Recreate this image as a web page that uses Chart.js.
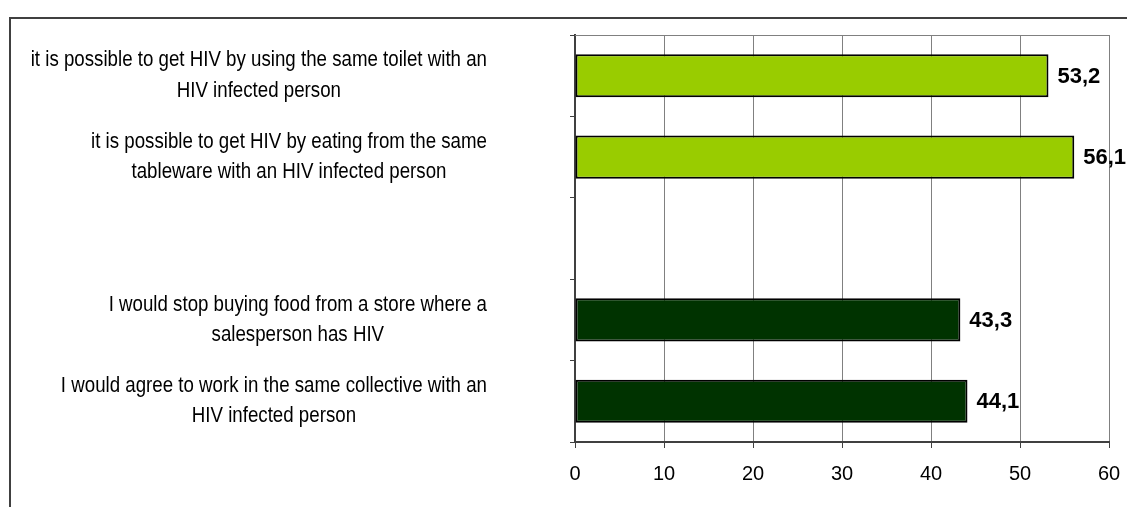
<!DOCTYPE html>
<html>
<head>
<meta charset="utf-8">
<script src="https://cdn.jsdelivr.net/npm/chart.js@4"></script>
<style>
  html, body { margin: 0; padding: 0; background: #ffffff; overflow: hidden; }
  #wrap { position: relative; width: 1127px; height: 507px; }
  #frame { position: absolute; left: 9px; top: 17px; width: 1300px; height: 700px;
           border: 2px solid #404040; box-sizing: border-box; }
  #chart { position: absolute; left: 0; top: 0; }
</style>
</head>
<body>
<div id="wrap">
  <div id="frame"></div>
  <canvas id="chart" width="1127" height="507"></canvas>
</div>
<script>
// Survey statements (top to bottom); the empty slot separates the two groups
const categories = [
  ['it is possible to get HIV by using the same toilet with an', 'HIV infected person'],
  ['it is possible to get HIV by eating from the same', 'tableware with an HIV infected person'],
  '',
  ['I would stop buying food from a store where a', 'salesperson has HIV'],
  ['I would agree to work in the same collective with an', 'HIV infected person']
];

// Share of respondents, %
const values = [53.2, 56.1, null, 43.3, 44.1];

// Group colours: misconceptions (light green), attitudes (dark green)
const barColors = ['#99CC00', '#99CC00', '#99CC00', '#003300', '#003300'];

// Value axis ticks
const xTickMin = 0;
const xTickMax = 60;
const xTickStep = 10;

const FONT = '"Liberation Sans", Arial, sans-serif';

// Category labels: each block centred on its own widest line, right edge fixed
const categoryLabels = {
  id: 'categoryLabels',
  afterDraw(chart) {
    const { ctx, chartArea } = chart;
    const yScale = chart.scales.y;
    const sx = 0.85;          // condensed face
    const lineH = 30.5;
    const capH = 15.7;
    const rightX = chartArea.left - 88;
    ctx.save();
    ctx.fillStyle = '#000000';
    ctx.font = '22px ' + FONT;
    ctx.textAlign = 'center';
    ctx.textBaseline = 'alphabetic';
    categories.forEach((lab, i) => {
      if (!lab) return;
      const lines = Array.isArray(lab) ? lab : [lab];
      const maxW = Math.max(...lines.map(l => ctx.measureText(l).width)) * sx;
      const cx = rightX - maxW / 2;
      const yc = yScale.getPixelForValue(i);
      const first = yc - (lines.length - 1) * lineH / 2 + capH / 2 - 2;
      lines.forEach((line, k) => {
        ctx.save();
        ctx.translate(cx, first + k * lineH);
        ctx.scale(sx, 1);
        ctx.fillText(line, 0, 0);
        ctx.restore();
      });
    });
    ctx.restore();
  }
};

// Value labels at the end of each bar, decimal comma
const valueLabels = {
  id: 'valueLabels',
  afterDatasetsDraw(chart) {
    const { ctx } = chart;
    const meta = chart.getDatasetMeta(0);
    ctx.save();
    ctx.fillStyle = '#000000';
    ctx.font = 'bold 22px ' + FONT;
    ctx.textAlign = 'left';
    ctx.textBaseline = 'middle';
    meta.data.forEach((bar, i) => {
      const v = values[i];
      if (v === null || v === undefined) return;
      ctx.fillText(v.toFixed(1).replace('.', ','), bar.x + 9, bar.y + 1);
    });
    ctx.restore();
  }
};

// Grey top edge of the plot area
const plotTopEdge = {
  id: 'plotTopEdge',
  beforeDatasetsDraw(chart) {
    const { ctx, chartArea } = chart;
    ctx.save();
    ctx.strokeStyle = '#808080';
    ctx.lineWidth = 1;
    ctx.beginPath();
    ctx.moveTo(chartArea.left, Math.round(chartArea.top) + 0.5);
    ctx.lineTo(chartArea.right, Math.round(chartArea.top) + 0.5);
    ctx.stroke();
    ctx.restore();
  }
};

new Chart(document.getElementById('chart'), {
  type: 'bar',
  data: {
    labels: categories,
    datasets: [{
      data: values,
      backgroundColor: barColors,
      borderColor: '#000000',
      borderWidth: 2,
      borderSkipped: false,
      barPercentage: 0.53,
      categoryPercentage: 1.0
    }]
  },
  options: {
    indexAxis: 'y',
    responsive: false,
    animation: false,
    layout: { padding: { top: 35, right: 18, left: 0, bottom: 0 } },
    plugins: {
      legend: { display: false },
      tooltip: { enabled: false }
    },
    scales: {
      x: {
        min: xTickMin,
        max: xTickMax,
        ticks: {
          stepSize: xTickStep,
          color: '#000000',
          font: { family: FONT, size: 20 },
          padding: 14
        },
        grid: {
          color: '#808080',
          lineWidth: 1,
          tickColor: '#404040',
          tickLength: 6
        },
        border: { color: '#404040', width: 2 },
        afterFit(scale) {
          scale.height = 65;
          scale.paddingLeft = 0;
          scale.paddingRight = 0;
        }
      },
      y: {
        ticks: { display: false },
        grid: {
          offset: true,
          drawOnChartArea: false,
          color: '#404040',
          tickLength: 5
        },
        border: { color: '#404040', width: 2 },
        afterFit(scale) {
          scale.width = 575;
          scale.paddingTop = 0;
          scale.paddingBottom = 0;
        }
      }
    }
  },
  plugins: [categoryLabels, valueLabels, plotTopEdge]
});
</script>
</body>
</html>
